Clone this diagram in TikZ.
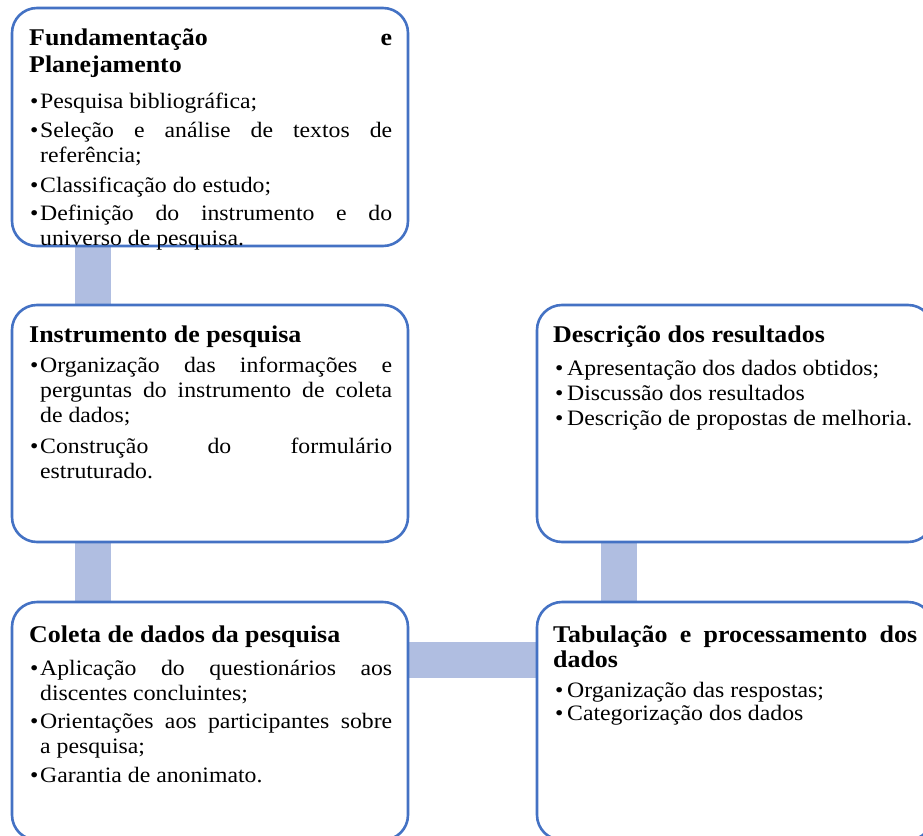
\documentclass[tikz,border=0pt]{standalone}
\usepackage{fontspec}
\setmainfont{Liberation Serif}[FakeStretch=1.08]
\usetikzlibrary{backgrounds}
\definecolor{bordblue}{RGB}{68,114,196}
\definecolor{barblue}{RGB}{176,190,225}
\newcommand{\bodyf}{\fontsize{22}{25}\selectfont}
\newcommand{\titlef}{\fontsize{24}{26}\selectfont\bfseries}
\newcommand{\JL}[2]{\makebox[#1][s]{#2}}
\newcommand{\BL}{\makebox[10pt][l]{•}}
\newcommand{\BR}{\makebox[12pt][l]{•}}
\begin{document}
\begin{tikzpicture}[x=1pt,y=-1pt,
  box/.style={draw=bordblue,line width=2.6pt,rounded corners=25pt,minimum width=396pt,minimum height=238pt,inner sep=0pt,fill=white},
  bar/.style={draw=barblue,line width=36pt},
  ttl/.style={anchor=base west,inner sep=0pt,font=\titlef},
  txt/.style={anchor=base west,inner sep=0pt,font=\bodyf}]
\useasboundingbox (0,0) rectangle (923,835);
\clip (0,0) rectangle (923,835);

\node[box] (b1) at (210,127) {};
\node[box,minimum height=237pt] (b2) at (210,423.5) {};
\node[box] (b3) at (210,721) {};
\node[box,minimum height=237pt] (b4) at (735,423.5) {};
\node[box] (b5) at (735,721) {};

\begin{scope}[on background layer]
\draw[bar] ([xshift=-117pt]b1.south) -- ([xshift=-117pt]b2.north);
\draw[bar] ([xshift=-117pt]b2.south) -- ([xshift=-117pt]b3.north);
\draw[bar] ([yshift=61.5pt]b3.east) -- ([yshift=61.5pt]b5.west);
\draw[bar] ([xshift=-116.5pt]b5.north) -- ([xshift=-116.5pt]b4.south);
\end{scope}

% Box 1
\node[ttl] (t1a) at (29,45) {\JL{363pt}{Fundamentação e}};
\node[ttl] (t1b) at (29,72) {Planejamento};
\node[txt] (l1a) at (30,108) {\BL Pesquisa bibliográfica;};
\node[txt] (l1b) at (30,137) {\BL\JL{352pt}{Seleção e análise de textos de}};
\node[txt] (l1c) at (40,162) {referência;};
\node[txt] (l1d) at (30,192) {\BL Classificação do estudo;};
\node[txt] (l1e) at (30,220) {\BL\JL{352pt}{Definição do instrumento e do}};
\node[txt] (l1f) at (40,245) {universo de pesquisa.};

% Box 2
\node[ttl] (t2a) at (29,342) {Instrumento de pesquisa};
\node[txt] (l2a) at (30,372) {\BL\JL{352pt}{Organização das informações e}};
\node[txt] (l2b) at (40,397) {\JL{352pt}{perguntas do instrumento de coleta}};
\node[txt] (l2c) at (40,422) {de dados;};
\node[txt] (l2d) at (30,453) {\BL\JL{352pt}{Construção do formulário}};
\node[txt] (l2e) at (40,478) {estruturado.};

% Box 3
\node[ttl] (t3a) at (29,642) {Coleta de dados da pesquisa};
\node[txt] (l3a) at (30,675) {\BL\JL{352pt}{Aplicação do questionários aos}};
\node[txt] (l3b) at (40,700) {discentes concluintes;};
\node[txt] (l3c) at (30,728) {\BL\JL{352pt}{Orientações aos participantes sobre}};
\node[txt] (l3d) at (40,753) {a pesquisa;};
\node[txt] (l3e) at (30,782) {\BL Garantia de anonimato.};

% Box 4
\node[ttl] (t4a) at (553,342) {Descrição dos resultados};
\node[txt] (l4a) at (555,375) {\BR Apresentação dos dados obtidos;};
\node[txt] (l4b) at (555,400) {\BR Discussão dos resultados};
\node[txt] (l4c) at (555,425) {\BR Descrição de propostas de melhoria.};

% Box 5
\node[ttl] (t5a) at (553,642) {\JL{364pt}{Tabulação e processamento dos}};
\node[ttl] (t5b) at (553,667) {dados};
\node[txt] (l5a) at (555,697) {\BR Organização das respostas;};
\node[txt] (l5b) at (555,720) {\BR Categorização dos dados};
\end{tikzpicture}
\end{document}
